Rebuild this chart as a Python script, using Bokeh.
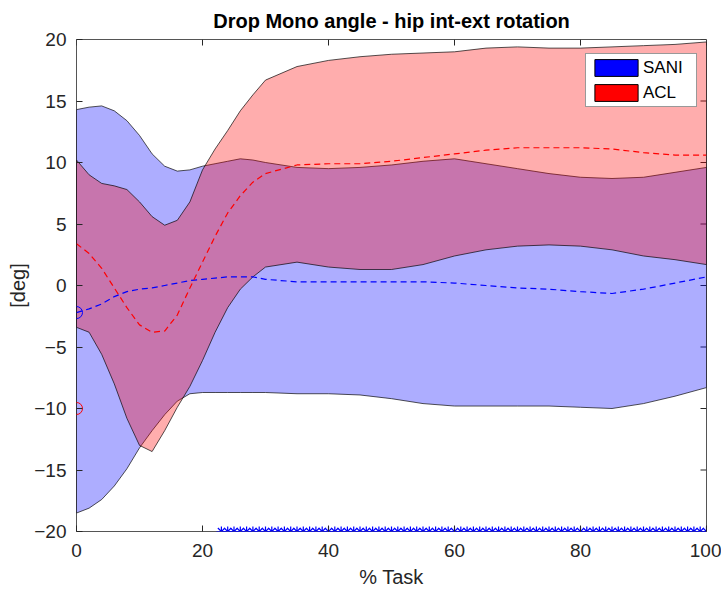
from bokeh.plotting import figure
from bokeh.models import Range1d, Legend, LegendItem, FixedTicker, ColumnDataSource
from bokeh.embed import file_html
from bokeh.resources import INLINE

# ---- data ----
x = [0, 2, 4, 6, 8, 10, 12, 14, 16, 18, 20, 22, 24, 26, 28, 30,
     35, 40, 45, 50, 55, 60, 65, 70, 75, 80, 85, 90, 95, 100]

sani_mean = [-2.2, -1.9, -1.5, -0.9, -0.5, -0.3, -0.2, 0.0, 0.2, 0.4, 0.5, 0.6, 0.7, 0.7, 0.7, 0.5,
             0.3, 0.3, 0.3, 0.3, 0.3, 0.2, 0.0, -0.2, -0.3, -0.5, -0.65, -0.3, 0.2, 0.7]
sani_upper = [14.3, 14.5, 14.6, 14.2, 13.4, 12.2, 10.7, 9.7, 9.3, 9.4, 9.7, 9.9, 10.1, 10.3, 10.2, 10.0,
              9.6, 9.5, 9.6, 9.8, 10.1, 10.3, 9.9, 9.5, 9.1, 8.8, 8.7, 8.8, 9.2, 9.6]
sani_lower = [-18.5, -18.1, -17.4, -16.3, -14.9, -13.2, -11.8, -10.5, -9.4, -8.8, -8.7, -8.7, -8.7, -8.7, -8.7, -8.7,
              -8.8, -8.8, -8.9, -9.2, -9.6, -9.8, -9.8, -9.8, -9.8, -9.9, -10.0, -9.6, -9.0, -8.3]

acl_mean = [3.4, 2.6, 1.4, -0.2, -1.8, -3.2, -3.8, -3.7, -2.4, -0.2, 1.9, 4.0, 5.9, 7.3, 8.4, 9.1,
            9.8, 9.9, 9.9, 10.1, 10.4, 10.7, 11.0, 11.2, 11.2, 11.2, 11.1, 10.8, 10.6, 10.6]
acl_upper = [10.2, 9.0, 8.3, 8.1, 7.8, 6.8, 5.6, 4.9, 5.3, 6.8, 9.4, 11.1, 12.6, 14.2, 15.5, 16.7,
             17.8, 18.3, 18.6, 18.8, 18.9, 19.0, 19.3, 19.4, 19.3, 19.3, 19.4, 19.5, 19.6, 19.8]
acl_lower = [-3.4, -3.8, -5.6, -8.0, -10.8, -13.0, -13.5, -11.8, -9.9, -8.2, -6.1, -3.8, -1.8, -0.3, 0.7, 1.5,
             1.9, 1.5, 1.3, 1.3, 1.7, 2.4, 2.9, 3.2, 3.3, 3.2, 2.9, 2.4, 2.1, 1.7]

sani_start = -2.2
acl_start = -10.0

sig_first, sig_last = 23, 100
sig_x = list(range(sig_first, sig_last + 1))
sig_y = [-20] * len(sig_x)

x_ticks = [0, 20, 40, 60, 80, 100]
y_ticks = [-20, -15, -10, -5, 0, 5, 10, 15, 20]
x_lim = (0, 100)
y_lim = (-20, 20)

FONT = "Liberation Sans"
TXT = "#262626"

p = figure(width=721, height=591, output_backend="svg", toolbar_location=None,
           x_range=Range1d(*x_lim), y_range=Range1d(*y_lim),
           min_border_left=76, min_border_right=15, min_border_top=39, min_border_bottom=60,
           background_fill_color="white", border_fill_color="white")
p.grid.visible = False
p.outline_line_color = "#555555"
p.outline_line_width = 1

p.title.text = "Drop Mono angle - hip int-ext rotation"
p.title.align = "center"
p.title.text_font = FONT
p.title.text_font_size = "20px"
p.title.text_font_style = "bold"
p.title.text_color = "black"
p.title.standoff = 15

xax = p.xaxis[0]
yax = p.yaxis[0]
xax.ticker = FixedTicker(ticks=x_ticks)
yax.ticker = FixedTicker(ticks=y_ticks)

for ax in [xax, yax]:
    ax.axis_line_color = None
    ax.major_tick_in = 6
    ax.major_tick_out = 0
    ax.major_tick_line_color = TXT
    ax.minor_tick_line_color = None
    ax.major_label_text_font = FONT
    ax.major_label_text_font_size = "19px"
    ax.major_label_text_color = TXT
    ax.axis_label_text_font = FONT
    ax.axis_label_text_font_size = "20px"
    ax.axis_label_text_font_style = "normal"
    ax.axis_label_text_color = TXT
xax.axis_label = "% Task"
yax.axis_label = "[deg]"
xax.major_label_standoff = 12
yax.major_label_standoff = 10
xax.axis_label_standoff = 6
yax.axis_label_standoff = 2

# tick marks on the top and right sides of the box (inside)
tick_dy = (y_lim[1] - y_lim[0]) * 6 / 492
tick_dx = (x_lim[1] - x_lim[0]) * 6 / 630
p.segment(x0=x_ticks, y0=[y_lim[1]] * len(x_ticks), x1=x_ticks, y1=[y_lim[1] - tick_dy] * len(x_ticks),
          line_color=TXT, line_width=1)
p.segment(x0=[x_lim[1]] * len(y_ticks), y0=y_ticks, x1=[x_lim[1] - tick_dx] * len(y_ticks), y1=y_ticks,
          line_color=TXT, line_width=1)

# bands
p.patch(x + x[::-1], sani_upper + sani_lower[::-1],
        fill_color="blue", fill_alpha=0.32, line_color="black", line_width=0.8, line_alpha=0.85)
p.patch(x + x[::-1], acl_upper + acl_lower[::-1],
        fill_color="red", fill_alpha=0.32, line_color="black", line_width=0.8, line_alpha=0.85)

# means
p.line(x, sani_mean, line_color="blue", line_dash="6 4", line_width=1.2)
p.line(x, acl_mean, line_color="red", line_dash="6 4", line_width=1.2)

# starting points
p.scatter([0], [sani_start], marker="circle", size=12, fill_color=None, line_color="blue", line_width=1)
p.scatter([0], [acl_start], marker="circle", size=12, fill_color=None, line_color="red", line_width=1)

# significance
p.scatter(sig_x, sig_y, marker="asterisk", size=10, line_color="blue", line_width=1.2)

# legend (glyphs with no visible data)
nan = float("nan")
leg_src = ColumnDataSource(dict(l=[nan], r=[nan], t=[nan], b=[nan]))
r_sani = p.quad(left="l", right="r", top="t", bottom="b", source=leg_src,
                fill_color="blue", line_color="black")
r_acl = p.quad(left="l", right="r", top="t", bottom="b", source=leg_src,
               fill_color="red", line_color="black")
legend = Legend(items=[LegendItem(label="SANI", renderers=[r_sani], index=0),
                       LegendItem(label="ACL", renderers=[r_acl], index=0)],
                location=(509, 424))
legend.margin = 0
legend.padding = 3
legend.spacing = 4
legend.glyph_width = 54
legend.glyph_height = 21
legend.label_height = 21
legend.label_width = 50
legend.label_text_font = FONT
legend.label_text_font_size = "17px"
legend.label_text_color = "black"
legend.label_standoff = 0
legend.border_line_color = "#333333"
legend.border_line_width = 1
legend.background_fill_alpha = 1
p.add_layout(legend, "center")

open("out.html", "w").write(file_html(p, INLINE))
